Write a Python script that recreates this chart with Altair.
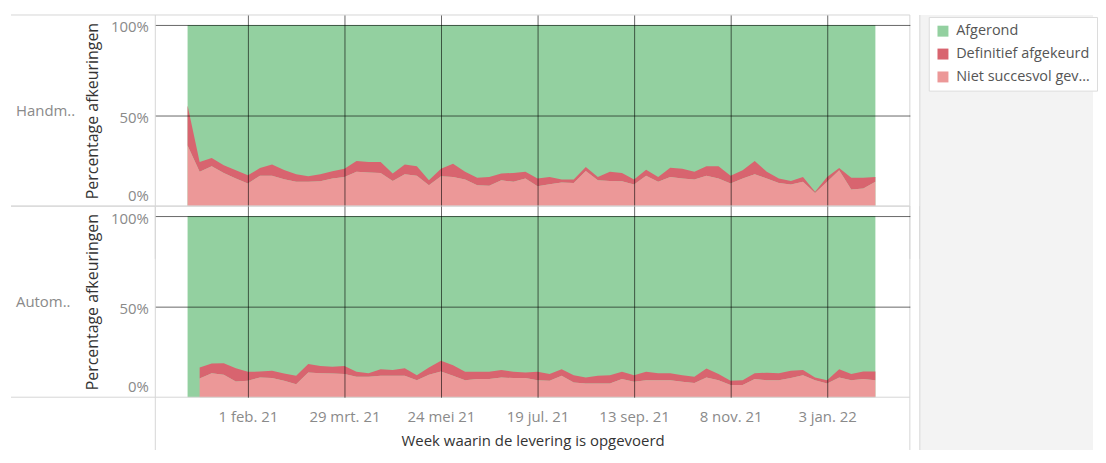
import altair as alt
import pandas as pd

# ---------------- data ----------------
weeks = pd.date_range("2020-12-28", periods=58, freq="7D")
panels = ["Handm..", "Autom.."]
series = ["Afgerond", "Definitief afgekeurd", "Niet succesvol gevalideerd"]
colors = ["#93d0a0", "#d8646f", "#ec9898"]
stack_order = {"Niet succesvol gevalideerd": 0, "Definitief afgekeurd": 1, "Afgerond": 2}

handm_niet = [33.5, 18.9, 22.0, 18.3, 15.2, 12.5, 16.7, 16.7, 14.8, 13.4, 13.4, 13.7, 15.2, 16.1, 18.9,
              18.5, 18.3, 13.9, 17.6, 16.7, 11.5, 16.5, 16.1, 14.7, 11.5, 11.2, 14.3, 13.4, 15.2, 11.0,
              12.1, 13.0, 12.8, 19.4, 14.3, 13.9, 13.7, 11.9, 16.7, 13.4, 16.1, 15.2, 14.7, 16.7, 15.2,
              12.5, 15.2, 17.6, 15.2, 12.8, 11.9, 13.4, 7.3, 13.4, 19.8, 9.2, 9.7, 13.4]
handm_def = [22.0, 5.5, 4.6, 4.2, 4.6, 4.5, 4.3, 6.2, 5.2, 4.2, 3.1, 3.9, 4.0, 4.5, 6.0,
             5.9, 6.1, 4.1, 5.4, 5.3, 2.8, 4.1, 7.3, 4.2, 4.1, 4.9, 3.7, 4.9, 3.7, 4.2,
             4.0, 1.7, 1.9, 2.2, 1.8, 5.0, 4.6, 2.8, 3.4, 2.7, 5.1, 5.4, 4.2, 5.3, 6.8,
             4.2, 4.6, 7.3, 3.7, 2.4, 2.0, 2.7, 0.6, 2.7, 1.2, 6.4, 5.9, 2.7]
handm_afg = [44.5, 75.6, 73.4, 77.5, 80.2, 83.0, 79.0, 77.1, 80.0, 82.4, 83.5, 82.4, 80.8, 79.4, 75.1,
             75.6, 75.6, 82.0, 77.0, 78.0, 85.7, 79.4, 76.6, 81.1, 84.4, 83.9, 82.0, 81.7, 81.1, 84.8,
             83.9, 85.3, 85.3, 78.4, 83.9, 81.1, 81.7, 85.3, 79.9, 83.9, 78.8, 79.4, 81.1, 78.0, 78.0,
             83.3, 80.2, 75.1, 81.1, 84.8, 86.1, 83.9, 92.1, 83.9, 79.0, 84.4, 84.4, 83.9]

autom_niet = [None, 10.4, 13.3, 12.4, 8.7, 9.1, 10.9, 10.6, 9.1, 7.2, 13.7, 13.3, 13.1, 12.8, 11.3,
              11.3, 11.8, 11.8, 11.8, 9.4, 12.4, 14.2, 11.8, 9.4, 10.0, 10.0, 10.9, 10.6, 10.6, 9.4,
              9.1, 11.8, 8.2, 7.6, 7.6, 7.6, 10.0, 8.5, 9.4, 9.4, 9.4, 8.5, 7.8, 10.9, 9.4,
              6.7, 6.7, 10.0, 9.4, 9.4, 10.6, 12.2, 9.4, 7.6, 10.9, 9.4, 10.0, 9.4]
autom_def = [None, 6.0, 5.3, 6.4, 7.3, 4.9, 3.3, 4.0, 4.0, 4.6, 4.6, 4.0, 3.7, 4.5, 2.7,
             2.0, 3.7, 3.2, 4.2, 2.8, 4.0, 5.9, 5.9, 4.6, 4.0, 4.0, 4.1, 3.4, 3.1, 4.6,
             3.7, 3.7, 4.0, 3.3, 4.2, 4.6, 4.0, 3.7, 4.6, 3.9, 3.9, 3.7, 3.5, 5.0, 3.4,
             2.4, 2.7, 3.3, 4.1, 3.9, 4.0, 2.9, 1.5, 1.8, 4.6, 3.4, 4.2, 4.8]
autom_afg = [100.0, 83.6, 81.4, 81.2, 84.0, 86.0, 85.8, 85.4, 86.9, 88.2, 81.7, 82.7, 83.2, 82.7, 86.0,
             86.7, 84.5, 85.0, 84.0, 87.8, 83.6, 79.9, 82.3, 86.0, 86.0, 86.0, 85.0, 86.0, 86.3, 86.0,
             87.2, 84.5, 87.8, 89.1, 88.2, 87.8, 86.0, 87.8, 86.0, 86.7, 86.7, 87.8, 88.7, 84.1, 87.2,
             90.9, 90.6, 86.7, 86.5, 86.7, 85.4, 84.9, 89.1, 90.6, 84.5, 87.2, 85.8, 85.8]

tick_dates = ["2021-02-01", "2021-03-29", "2021-05-24", "2021-07-19", "2021-09-13", "2021-11-08", "2022-01-03"]
tick_labels = ["1 feb. 21", "29 mrt. 21", "24 mei 21", "19 jul. 21", "13 sep. 21", "8 nov. 21", "3 jan. 22"]

# ---------------- table ----------------
rows = []
panel_data = {
    "Handm..": {"Afgerond": handm_afg, "Definitief afgekeurd": handm_def, "Niet succesvol gevalideerd": handm_niet},
    "Autom..": {"Afgerond": autom_afg, "Definitief afgekeurd": autom_def, "Niet succesvol gevalideerd": autom_niet},
}
for p in panels:
    for s in series:
        for i, (w, v) in enumerate(zip(weeks, panel_data[p][s])):
            if v is None:
                continue
            rows.append({"rij": p, "status": s, "week": w.strftime("%Y-%m-%dT00:00:00"),
                         "idx": i, "volg": stack_order[s], "pct": v})
df = pd.DataFrame(rows)

W, H = 758, 192
EXT = 245          # borders reach this far below a cell's top
SIDE_R = 942       # right end of the grey side panel (relative to plot left)

def dt(s, hours=0):
    y, m, d = (int(t) for t in s.split("-"))
    return alt.DateTime(year=y, month=m, date=d, hours=hours)

fmt = "timeFormat(datum.value, '%Y-%m-%d')"
expr = "''"
for d, l in zip(reversed(tick_dates), reversed(tick_labels)):
    expr = f"{fmt} == '{d}' ? '{l}' : ({expr})"

x_enc = alt.X("week:T",
              scale=alt.Scale(domain=[dt("2020-12-09", 7), dt("2022-02-20")]),
              axis=alt.Axis(values=[dt(d) for d in tick_dates], labelExpr=expr,
                            title="Week waarin de levering is opgevoerd",
                            grid=True, gridColor="#000", gridOpacity=0.6, gridWidth=1,
                            ticks=False, tickSize=0, domain=False, zindex=1,
                            labelFontSize=15, labelColor="#8a8a8a", labelPadding=12,
                            titleFontSize=15, titleFontWeight="normal", titleColor="#333",
                            titlePadding=9))
y_scale = alt.Scale(domain=[0, 1.055], nice=False)
y_axis = alt.Axis(values=[0, 0.5, 1], format=".0%",
                  title="Percentage afkeuringen",
                  grid=True, gridColor="#000",
                  gridOpacity={"condition": {"test": "datum.value == 0", "value": 0}, "value": 0.6},
                  ticks=False, tickSize=0, domain=False, zindex=1,
                  labelFontSize=15, labelColor="#8a8a8a", labelPadding=7,
                  labelOffset={"condition": {"test": "datum.value == 0", "value": -11}, "value": 2},
                  titleFontSize=16, titleFontWeight="normal", titleColor="#333",
                  titlePadding=10)
color_enc = alt.Color("status:N", scale=alt.Scale(domain=series, range=colors),
                      legend=alt.Legend(title=None, orient="none", legendX=777, legendY=2,
                                        symbolType="square", symbolSize=121, symbolStrokeWidth=0,
                                        labelFontSize=14.5, labelColor="#555", labelLimit=142,
                                        fillColor="white", strokeColor="#dcdcdc", padding=7,
                                        rowPadding=8, labelOffset=6))

stacked = alt.Chart().transform_stack(
    stack="pct", groupby=["rij", "week"], as_=["y0", "y1"], offset="normalize",
    sort=[alt.SortField("volg", order="ascending")],
)
green = stacked.transform_filter("datum.volg == 2").mark_area(opacity=1).encode(
    x=x_enc, y=alt.Y("y1:Q", scale=y_scale, axis=y_axis), y2=alt.datum(0), color=color_enc,
)
reds = stacked.transform_filter("datum.volg < 2").mark_area(opacity=1).encode(
    x=x_enc, y=alt.Y("y1:Q", scale=y_scale, axis=y_axis), y2="y0:Q", color=color_enc,
)

one = "datum.idx == 0 && datum.volg == 2"
side = alt.Chart().mark_rect(color="#f3f3f3").encode(
    x=alt.value(W + 10), x2=alt.value(SIDE_R), y=alt.value(0), y2=alt.value(EXT)
).transform_filter(one)
hl_top = alt.Chart().mark_rule(color="#d6d6d6").encode(
    x=alt.value(-145), x2=alt.value(W), y=alt.value(0)).transform_filter(one)
hl_bot = alt.Chart().mark_rule(color="#d6d6d6").encode(
    x=alt.value(-145), x2=alt.value(W), y=alt.value(H)).transform_filter(one)
vl_left = alt.Chart().mark_rule(color="#d6d6d6").encode(
    x=alt.value(0), y=alt.value(0), y2=alt.value(EXT)).transform_filter(one)
vl_right = alt.Chart().mark_rule(color="#d6d6d6").encode(
    x=alt.value(W), y=alt.value(0), y2=alt.value(EXT)).transform_filter(one)
vl_side = alt.Chart().mark_rule(color="#d6d6d6").encode(
    x=alt.value(W + 10), y=alt.value(0), y2=alt.value(EXT)).transform_filter(one)
rowlab = alt.Chart().mark_text(align="left", baseline="middle", fontSize=15, color="#8a8a8a").encode(
    text="rij:N", x=alt.value(-140), y=alt.value(H / 2)).transform_filter(one)

chart = alt.layer(side, green, reds, hl_top, hl_bot, vl_left, vl_right, vl_side, rowlab, data=df).properties(
    width=W, height=H
).facet(
    row=alt.Row("rij:N", sort=panels, header=alt.Header(labels=False, title=None)),
    spacing=0, bounds="flush",
).properties(
    padding={"left": 2, "top": 5, "right": 0, "bottom": 0}
).configure(font="Open Sans", background="white").configure_view(stroke=None)

chart.save("out.html", embed_options={"renderer": "svg", "actions": False})
